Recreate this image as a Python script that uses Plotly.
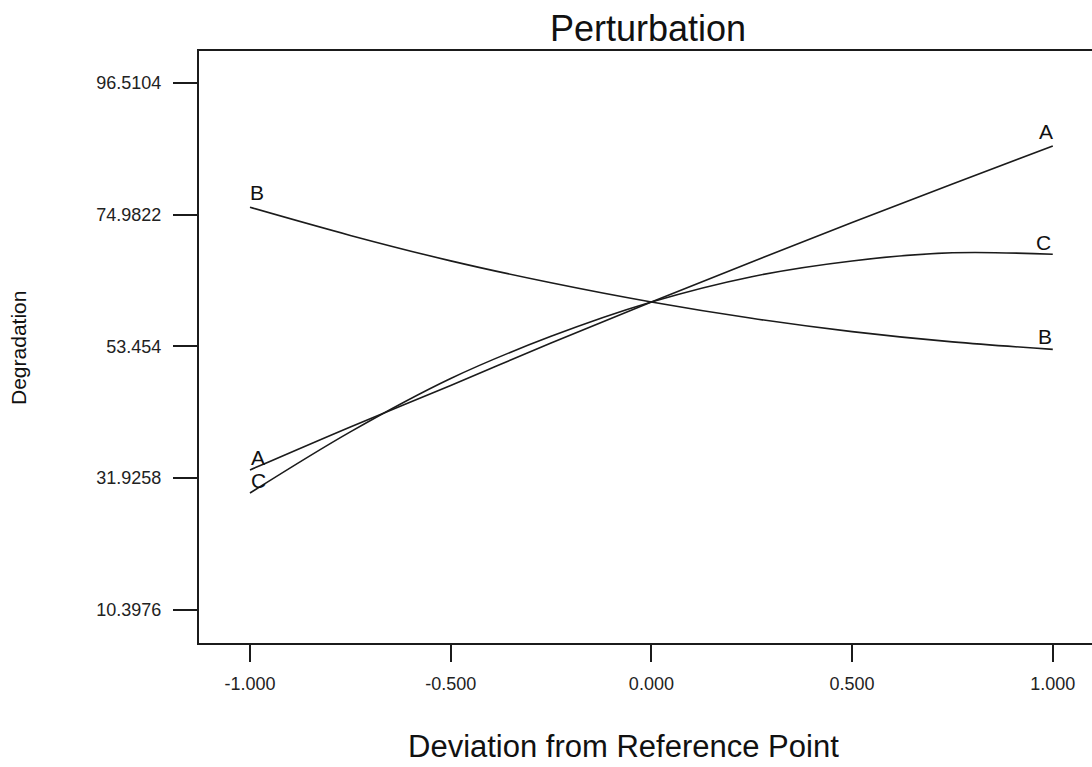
import plotly.graph_objects as go

# Deviation from reference point (coded units)
deviation = [-1.0, -0.75, -0.5, -0.25, 0.0, 0.25, 0.5, 0.75, 1.0]

# Degradation for each factor
factor_A = [33.25, 40.29, 47.05, 54.01, 60.69, 67.24, 73.66, 79.98, 86.17]
factor_B = [76.16, 71.57, 67.41, 63.83, 60.69, 58.03, 55.85, 54.17, 52.96]
factor_C = [29.49, 39.48, 48.20, 55.08, 60.69, 64.83, 67.40, 68.73, 68.48]

series_names = ["A", "B", "C"]
series_values = [factor_A, factor_B, factor_C]

y_tick_vals = [10.3976, 31.9258, 53.454, 74.9822, 96.5104]
y_tick_text = ["10.3976", "31.9258", "53.454", "74.9822", "96.5104"]
x_tick_vals = [-1.0, -0.5, 0.0, 0.5, 1.0]
x_tick_text = ["-1.000", "-0.500", "0.000", "0.500", "1.000"]

FONT = "Arial, 'Liberation Sans', sans-serif"
LINE = "#1b1b1b"

fig = go.Figure()
for name, vals in zip(series_names, series_values):
    fig.add_trace(go.Scatter(
        x=deviation, y=vals, mode="lines", name=name,
        line=dict(color=LINE, width=1.6, shape="spline"),
        showlegend=False, hoverinfo="x+y+name",
    ))

# end labels (right) and start labels (left)
right_shift = {"A": (-7, 15), "B": (-8, 13), "C": (-9, 12)}
left_shift = {"A": (8, 12), "B": (7, 15), "C": (9, 13)}
annotations = []
for name, vals in zip(series_names, series_values):
    dx, dy = right_shift[name]
    annotations.append(dict(x=deviation[-1], y=vals[-1], xref="x", yref="y", text=name,
                            showarrow=False, xshift=dx, yshift=dy,
                            font=dict(family=FONT, size=21, color="#111")))
    dx, dy = left_shift[name]
    annotations.append(dict(x=deviation[0], y=vals[0], xref="x", yref="y", text=name,
                            showarrow=False, xshift=dx, yshift=dy,
                            font=dict(family=FONT, size=21, color="#111")))

# axis titles
annotations.append(dict(x=(623 - 199) / 893, y=-(746 - 643) / 592, xref="paper", yref="paper",
                        text="Deviation from Reference Point", showarrow=False,
                        xanchor="center", yanchor="middle",
                        font=dict(family=FONT, size=31, color="#111")))
annotations.append(dict(x=-(199 - 18) / 893, y=(643 - 348) / 592, xref="paper", yref="paper",
                        text="Degradation", showarrow=False, textangle=-90,
                        xanchor="center", yanchor="middle",
                        font=dict(family=FONT, size=21, color="#111")))

fig.update_layout(
    width=1092, height=767,
    margin=dict(l=199, r=0, t=51, b=124),
    paper_bgcolor="white", plot_bgcolor="white",
    title=dict(text="Perturbation", x=(648) / 1092, xanchor="center",
               y=1 - 28 / 767, yanchor="middle",
               font=dict(family=FONT, size=36, color="#111")),
    annotations=annotations,
    xaxis=dict(range=[-1.127, 1.0977], tickvals=x_tick_vals, ticktext=x_tick_text,
               showgrid=False, zeroline=False, showline=True, mirror=True,
               linecolor=LINE, linewidth=2, ticks="outside", ticklen=17,
               tickwidth=1.5, tickcolor=LINE, ticklabelstandoff=6,
               tickfont=dict(family=FONT, size=18, color="#222")),
    yaxis=dict(range=[4.99, 101.69], tickvals=y_tick_vals, ticktext=y_tick_text,
               showgrid=False, zeroline=False, showline=True, mirror=False,
               linecolor=LINE, linewidth=2, ticks="outside", ticklen=24,
               tickwidth=1.5, tickcolor=LINE, ticklabelstandoff=8,
               tickfont=dict(family=FONT, size=18, color="#222")),
)

fig.write_html("out.html")
